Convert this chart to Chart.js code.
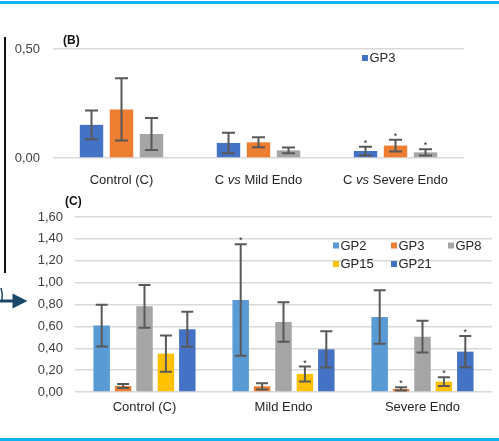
<!DOCTYPE html>
<html>
<head>
<meta charset="utf-8">
<script src="https://cdn.jsdelivr.net/npm/chart.js@4/dist/chart.umd.min.js"></script>
<style>
  html, body { margin: 0; padding: 0; background: #fff; }
  #wrap { position: relative; width: 499px; height: 441px; overflow: hidden; background: #fff; }
  canvas { position: absolute; left: 0; }
  #cB { top: 0; }
  #cC { top: 190px; }
  .rule { position: absolute; left: 0; width: 499px; height: 2.5px; background: #10b1ee; }
  #vline { position: absolute; left: 4px; top: 37px; width: 1.5px; height: 236px; background: #111; }
  #arrow { position: absolute; left: 0; top: 280px; }
</style>
</head>
<body>
<div id="wrap">
  <canvas id="cB" width="499" height="190"></canvas>
  <canvas id="cC" width="499" height="251"></canvas>
  <div class="rule" style="top:1px"></div>
  <div class="rule" style="top:438px"></div>
  <div id="vline"></div>
  <svg id="arrow" width="30" height="40" viewBox="0 0 30 40">
    <path d="M1 8 Q3 14 2 20" fill="none" stroke="#1a4868" stroke-width="1.5"/>
    <line x1="0" y1="21" x2="14" y2="21" stroke="#1a4868" stroke-width="3"/>
    <polygon points="12.5,13.5 27.5,21 12.5,28.5" fill="#1a4868"/>
  </svg>
</div>
<script>
// ---- Panel B: three-group comparison ----
const categoriesB = [['C ', 'vs', ' Mild Endo'], ['C ', 'vs', ' Severe Endo']];
const groupsB = ['Control (C)', 'C vs Mild Endo', 'C vs Severe Endo'];
const seriesB1 = [0.152, 0.069, 0.032];
const errorB1  = [0.066, 0.047, 0.020];
const seriesB2 = [0.223, 0.072, 0.057];
const errorB2  = [0.143, 0.023, 0.027];
const seriesB3 = [0.110, 0.035, 0.026];
const errorB3  = [0.073, 0.013, 0.014];
const starsB1 = [false, false, true];
const starsB2 = [false, false, true];
const starsB3 = [false, false, true];
const ticksB = [0, 0.5];

// ---- Panel C: per-glycopeptide levels ----
const categoriesC = ['Control (C)', 'Mild Endo', 'Severe Endo'];
const gp2  = [0.607, 0.841, 0.686];
const gp2Err  = [0.190, 0.510, 0.245];
const gp3  = [0.055, 0.052, 0.028];
const gp3Err  = [0.018, 0.028, 0.015];
const gp8  = [0.783, 0.640, 0.506];
const gp8Err  = [0.195, 0.180, 0.145];
const gp15 = [0.351, 0.165, 0.095];
const gp15Err = [0.166, 0.068, 0.040];
const gp21 = [0.573, 0.390, 0.369];
const gp21Err = [0.160, 0.165, 0.143];
const gp2Stars  = [false, true, false];
const gp3Stars  = [false, false, true];
const gp8Stars  = [false, false, false];
const gp15Stars = [false, true, true];
const gp21Stars = [false, false, true];
const ticksC = [0, 0.2, 0.4, 0.6, 0.8, 1.0, 1.2, 1.4, 1.6];

const FONT = '"Liberation Sans", Arial, sans-serif';
const TEXT = '#404040';
const GRID = '#d9d9d9';
const ERR = '#595959';

const fmt = v => Number(v).toFixed(2).replace('.', ',');

// error bars, significance marks, panel tag and legend
const extras = {
  id: 'extras',
  afterDatasetsDraw(chart, args, opts) {
    const ctx = chart.ctx;
    const y = chart.scales.y;
    ctx.save();
    chart.data.datasets.forEach((ds, di) => {
      const meta = chart.getDatasetMeta(di);
      meta.data.forEach((bar, i) => {
        const v = ds.data[i], e = ds.errors[i];
        const yt = y.getPixelForValue(v + e);
        const yb = y.getPixelForValue(Math.max(0, v - e));
        const cap = opts.cap;
        ctx.strokeStyle = ERR;
        ctx.lineWidth = 2;
        ctx.beginPath();
        ctx.moveTo(bar.x, yt); ctx.lineTo(bar.x, yb);
        ctx.moveTo(bar.x - cap, yt); ctx.lineTo(bar.x + cap, yt);
        ctx.moveTo(bar.x - cap, yb); ctx.lineTo(bar.x + cap, yb);
        ctx.stroke();
        if (ds.stars[i]) {
          ctx.fillStyle = '#262626';
          ctx.font = '9px ' + FONT;
          ctx.textAlign = 'center';
          ctx.textBaseline = 'alphabetic';
          ctx.fillText('*', bar.x, yt - 1);
        }
      });
    });
    // panel tag
    ctx.fillStyle = '#111';
    ctx.font = 'bold 12px ' + FONT;
    ctx.textAlign = 'left';
    ctx.textBaseline = 'middle';
    ctx.fillText(opts.tag, opts.tagX, opts.tagY);
    // legend
    ctx.font = '13px ' + FONT;
    chart.data.datasets.forEach((ds, di) => {
      const pos = opts.legend[di];
      if (!pos || !ds.label) return;
      ctx.fillStyle = ds.backgroundColor;
      ctx.fillRect(pos[0], pos[1] - 3, 6, 6);
      ctx.fillStyle = '#262626';
      ctx.textBaseline = 'middle';
      ctx.fillText(ds.label, pos[0] + 7.5, pos[1] + 0.5);
    });
    // category labels with italic "vs"
    if (opts.richLabels) {
      const x = chart.scales.x;
      const ly = chart.chartArea.bottom + opts.labelOffset;
      groupsB.forEach((g, i) => {
        const parts = i === 0 ? [[g, false]] :
          categoriesB[i - 1].map((p, k) => [p, k === 1]);
        let w = 0;
        parts.forEach(([t, it]) => { ctx.font = (it ? 'italic ' : '') + '13px ' + FONT; w += ctx.measureText(t).width; });
        let cx = x.getPixelForValue(i) - w / 2;
        ctx.fillStyle = '#262626';
        ctx.textAlign = 'left';
        ctx.textBaseline = 'middle';
        parts.forEach(([t, it]) => {
          ctx.font = (it ? 'italic ' : '') + '13px ' + FONT;
          ctx.fillText(t, cx, ly);
          cx += ctx.measureText(t).width;
        });
      });
    }
    ctx.restore();
  }
};

function yAxis(max, step, ticks, width, pad) {
  return {
    min: 0, max: max,
    afterBuildTicks: s => { s.ticks = ticks.map(v => ({ value: v })); },
    afterFit: s => { s.width = width; },
    grid: { color: GRID, lineWidth: 1.5, drawTicks: false },
    border: { display: false },
    ticks: { stepSize: step, padding: pad, color: TEXT, font: { family: FONT, size: 13 }, callback: v => fmt(v) }
  };
}

// Panel B
new Chart(document.getElementById('cB'), {
  type: 'bar',
  data: {
    labels: groupsB,
    datasets: [
      { label: 'GP3', data: seriesB1, errors: errorB1, stars: starsB1, backgroundColor: '#4472c4' },
      { label: '', data: seriesB2, errors: errorB2, stars: starsB2, backgroundColor: '#ed7d31' },
      { label: '', data: seriesB3, errors: errorB3, stars: starsB3, backgroundColor: '#a5a5a5' }
    ]
  },
  options: {
    responsive: false, animation: false, devicePixelRatio: 1,
    layout: { padding: { top: 49, right: 35, left: 0, bottom: 0 } },
    datasets: { bar: { categoryPercentage: 0.657, barPercentage: 0.78 } },
    plugins: {
      legend: { display: false }, tooltip: { enabled: false },
      extras: { cap: 6.5, tag: '(B)', tagX: 63, tagY: 41, legend: [[362, 58]], richLabels: true, labelOffset: 22 }
    },
    scales: {
      x: {
        grid: { display: false, drawTicks: false }, border: { display: false },
        ticks: { display: false },
        afterFit: s => { s.height = 32; }
      },
      y: yAxis(0.5, 0.5, ticksB, 53, 13)
    }
  },
  plugins: [extras]
});

// Panel C
new Chart(document.getElementById('cC'), {
  type: 'bar',
  data: {
    labels: categoriesC,
    datasets: [
      { label: 'GP2',  data: gp2,  errors: gp2Err,  stars: gp2Stars,  backgroundColor: '#5b9bd5' },
      { label: 'GP3',  data: gp3,  errors: gp3Err,  stars: gp3Stars,  backgroundColor: '#ed7d31' },
      { label: 'GP8',  data: gp8,  errors: gp8Err,  stars: gp8Stars,  backgroundColor: '#a5a5a5' },
      { label: 'GP15', data: gp15, errors: gp15Err, stars: gp15Stars, backgroundColor: '#ffc000' },
      { label: 'GP21', data: gp21, errors: gp21Err, stars: gp21Stars, backgroundColor: '#4472c4' }
    ]
  },
  options: {
    responsive: false, animation: false, devicePixelRatio: 1,
    layout: { padding: { top: 27, right: 7, left: 0, bottom: 0 } },
    datasets: { bar: { categoryPercentage: 0.77, barPercentage: 0.77 } },
    plugins: {
      legend: { display: false }, tooltip: { enabled: false },
      extras: { cap: 6, tag: '(C)', tagX: 65, tagY: 12,
        legend: [[333, 55.5], [391, 55.5], [448, 55.5], [333, 74], [391, 74]], richLabels: false }
    },
    scales: {
      x: {
        grid: { display: false, drawTicks: false }, border: { display: false },
        ticks: { color: '#262626', padding: 8, maxRotation: 0, font: { family: FONT, size: 13 } },
        afterFit: s => { s.height = 49; }
      },
      y: yAxis(1.6, 0.2, ticksC, 75, 12)
    }
  },
  plugins: [extras]
});
</script>
</body>
</html>
